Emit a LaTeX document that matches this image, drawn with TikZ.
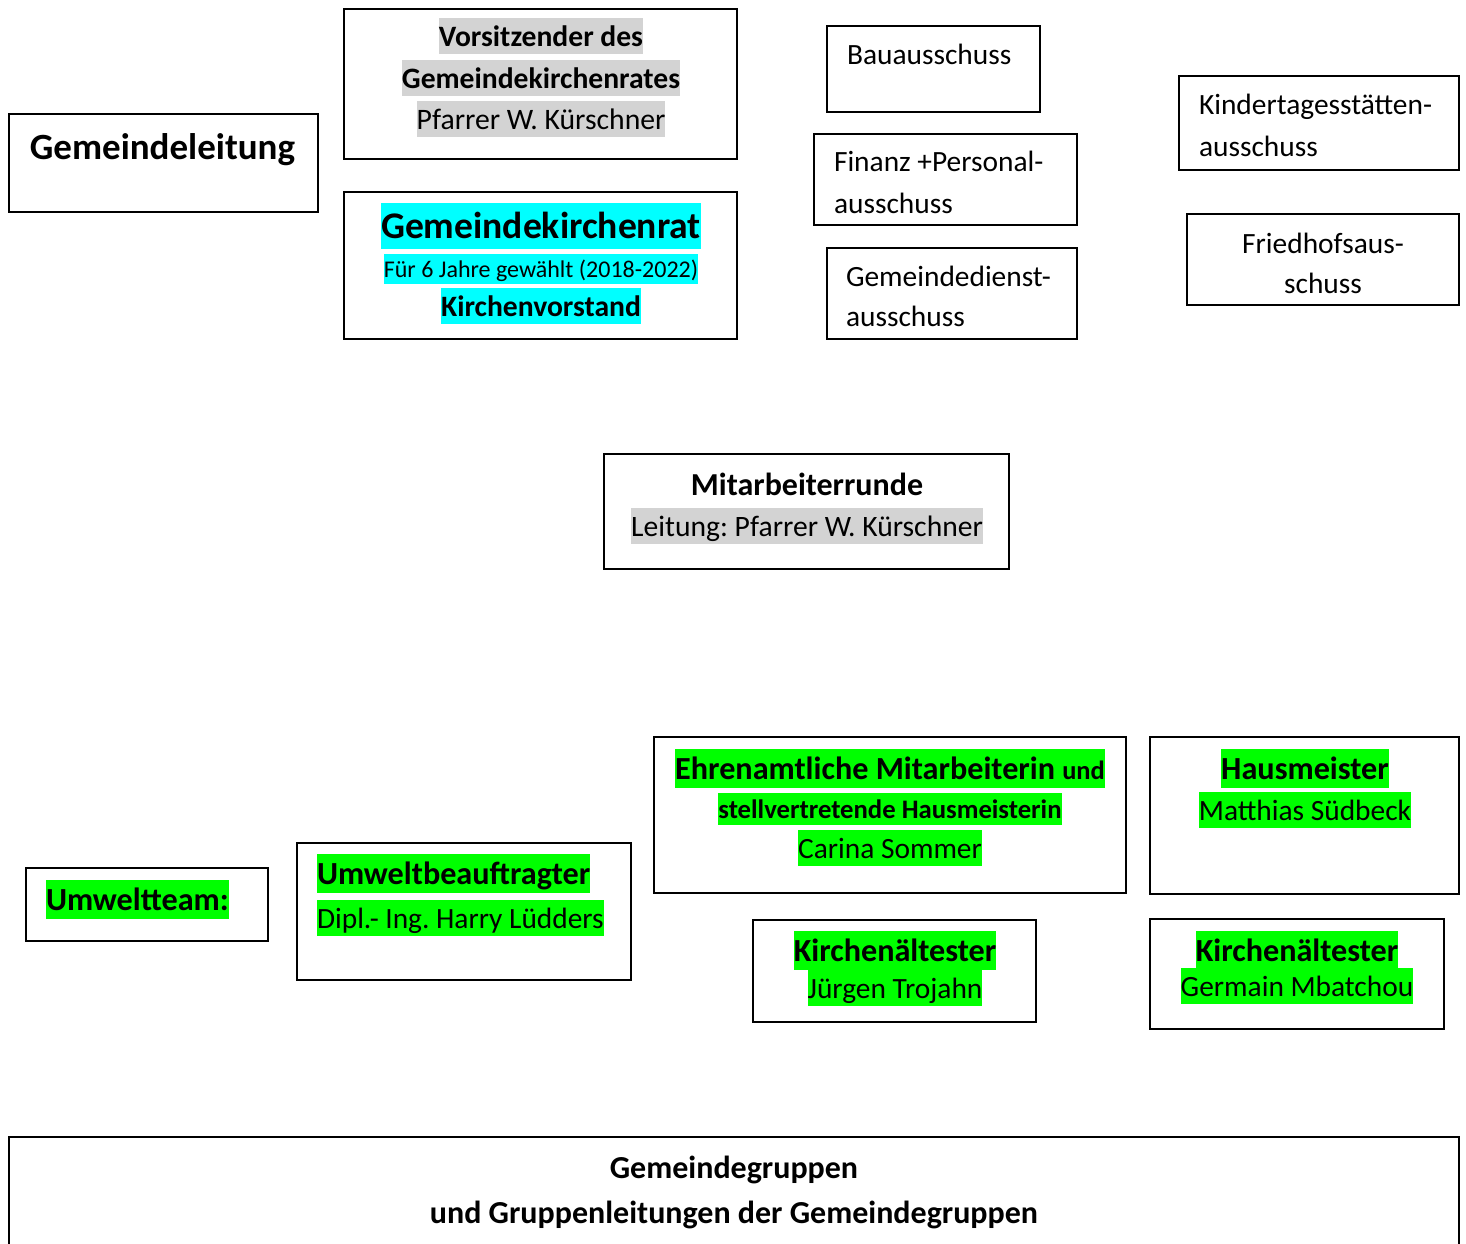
\documentclass[tikz,border=0pt]{standalone}
\usepackage{fontspec}
\setmainfont{Carlito}
\frenchspacing
\definecolor{hlgray}{HTML}{D3D3D3}
\definecolor{hlcyan}{HTML}{00FFFF}
\definecolor{hlgreen}{HTML}{00FF00}
\newcommand{\hlbox}[2]{{\setlength{\fboxsep}{0pt}\colorbox{#1}{\rule[-0.28em]{0pt}{1.22em}#2}}}
\newcommand{\fs}[1]{\fontsize{#1}{#1}\selectfont}
\tikzset{
  box/.style={draw, line width=2pt, rectangle, inner sep=0pt},
  txt/.style={anchor=base, inner sep=0pt, outer sep=0pt},
  txtl/.style={anchor=base west, inner sep=0pt, outer sep=0pt},
  reg/.style={font=\fs{29.4}},
  regb/.style={font=\fs{29.6}\bfseries},
  head/.style={font=\fs{32.2}\bfseries},
}
\begin{document}
\begin{tikzpicture}[x=1pt,y=-1pt]
\useasboundingbox (0,0) rectangle (1466,1243);
\clip (0,0) rectangle (1466,1243);
% boxes
\node[box, minimum width=309pt, minimum height=98pt] (leit) at (163.5,163) {};
\node[box, minimum width=393pt, minimum height=150pt] (vors) at (540.5,84) {};
\node[box, minimum width=393pt, minimum height=147pt] (gkr) at (540.5,265.5) {};
\node[box, minimum width=213pt, minimum height=86pt] (bau) at (933.5,69) {};
\node[box, minimum width=263pt, minimum height=91pt] (fin) at (945.5,179.5) {};
\node[box, minimum width=250pt, minimum height=91pt] (gd) at (952,293.5) {};
\node[box, minimum width=280pt, minimum height=94pt] (kita) at (1319,123) {};
\node[box, minimum width=272pt, minimum height=91pt] (fried) at (1323,259.5) {};
\node[box, minimum width=405pt, minimum height=115pt] (mit) at (806.5,511.5) {};
\node[box, minimum width=242pt, minimum height=73pt] (umt) at (147,904.5) {};
\node[box, minimum width=334pt, minimum height=137pt] (umb) at (464,911.5) {};
\node[box, minimum width=472pt, minimum height=156pt] (ehr) at (890,815) {};
\node[box, minimum width=309pt, minimum height=157pt] (haus) at (1304.5,815.5) {};
\node[box, minimum width=283pt, minimum height=102pt] (kj) at (894.5,971) {};
\node[box, minimum width=294pt, minimum height=110pt] (kg) at (1297,974) {};
\node[box, minimum width=1450pt, minimum height=133pt] (grp) at (734,1203.5) {};
% texts
\node[txt, font=\fs{37}\bfseries] (leit-a) at (162.5,159) {Gemeindeleitung};
\node[txt, regb] (vors-a) at (541,46) {\hlbox{hlgray}{Vorsitzender des}};
\node[txt, regb] (vors-b) at (541,88) {\hlbox{hlgray}{Gemeindekirchenrates}};
\node[txt, font=\fs{29.7}] (vors-c) at (541,129) {\hlbox{hlgray}{Pfarrer W. Kürschner}};
\node[txt, font=\fs{37.6}\bfseries] (gkr-a) at (541,238) {\hlbox{hlcyan}{Gemeindekirchenrat}};
\node[txt, font=\fs{24}] (gkr-b) at (541,277) {\hlbox{hlcyan}{Für 6 Jahre gewählt (2018-2022)}};
\node[txt, regb] (gkr-c) at (541,316) {\hlbox{hlcyan}{Kirchenvorstand}};
\node[txtl, reg] (bau-a) at (847,64) {Bauausschuss};
\node[txtl, reg] (fin-a) at (834,171) {Finanz +Personal-};
\node[txtl, reg] (fin-b) at (834,213) {ausschuss};
\node[txtl, reg] (gd-a) at (846,286) {Gemeindedienst-};
\node[txtl, reg] (gd-b) at (846,326) {ausschuss};
\node[txtl, reg] (kita-a) at (1199,114) {Kindertagesstätten-};
\node[txtl, reg] (kita-b) at (1199,156) {ausschuss};
\node[txt, reg] (fried-a) at (1323,253) {Friedhofsaus-};
\node[txt, reg] (fried-b) at (1323,293) {schuss};
\node[txt, font=\fs{32}\bfseries] (mit-a) at (807,495) {Mitarbeiterrunde};
\node[txt, font=\fs{29.6}] (mit-b) at (807,536) {\hlbox{hlgray}{Leitung: Pfarrer W. Kürschner}};
\node[txtl, head] (umt-a) at (46,910) {\hlbox{hlgreen}{Umweltteam:}};
\node[txtl, head] (umb-a) at (317,884) {\hlbox{hlgreen}{Umweltbeauftragter}};
\node[txtl, reg] (umb-b) at (317,928) {\hlbox{hlgreen}{Dipl.- Ing. Harry Lüdders}};
\node[txt, head] (ehr-a) at (890,779) {\hlbox{hlgreen}{Ehrenamtliche Mitarbeiterin {\fs{26.4}und}}};
\node[txt, font=\fs{26.7}\bfseries] (ehr-b) at (890,818) {\hlbox{hlgreen}{stellvertretende Hausmeisterin}};
\node[txt, reg] (ehr-c) at (890,858) {\hlbox{hlgreen}{Carina Sommer}};
\node[txt, head] (haus-a) at (1305,779) {\hlbox{hlgreen}{Hausmeister}};
\node[txt, reg] (haus-b) at (1305,820) {\hlbox{hlgreen}{Matthias Südbeck}};
\node[txt, head] (kj-a) at (895,961) {\hlbox{hlgreen}{Kirchenältester}};
\node[txt, reg] (kj-b) at (895,998) {\hlbox{hlgreen}{Jürgen Trojahn}};
\node[txt, head] (kg-a) at (1297,961) {\hlbox{hlgreen}{Kirchenältester}};
\node[txt, reg] (kg-b) at (1297,996) {\hlbox{hlgreen}{Germain Mbatchou}};
\node[txt, font=\fs{32}\bfseries] (grp-a) at (734,1178) {Gemeindegruppen};
\node[txt, font=\fs{32}\bfseries] (grp-b) at (734,1223) {und Gruppenleitungen der Gemeindegruppen};
\end{tikzpicture}
\end{document}
